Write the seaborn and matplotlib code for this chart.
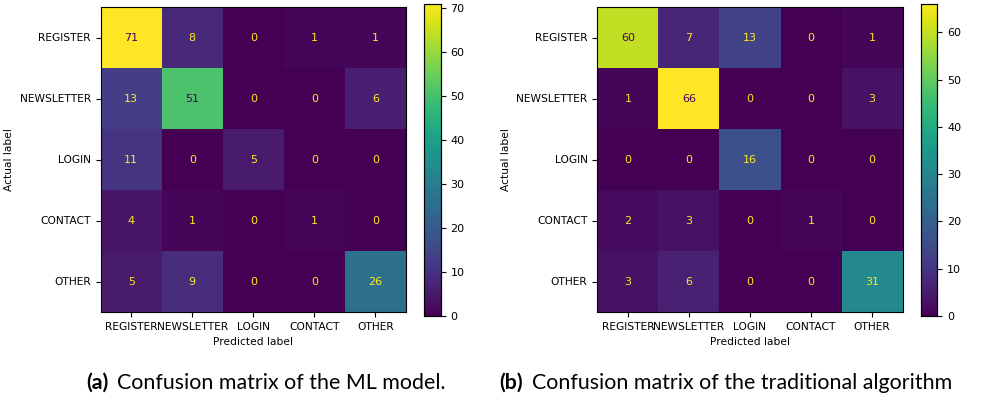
import numpy as np
import matplotlib
matplotlib.use("Agg")
import matplotlib.pyplot as plt
import seaborn as sns

labels = ["REGISTER", "NEWSLETTER", "LOGIN", "CONTACT", "OTHER"]

cm_ml = [
    [71, 8, 0, 1, 1],
    [13, 51, 0, 0, 6],
    [11, 0, 5, 0, 0],
    [4, 1, 0, 1, 0],
    [5, 9, 0, 0, 26],
]

cm_trad = [
    [60, 7, 13, 0, 1],
    [1, 66, 0, 0, 3],
    [0, 0, 16, 0, 0],
    [2, 3, 0, 1, 0],
    [3, 6, 0, 0, 31],
]

captions = [
    ("(a)", "Confusion matrix of the ML model."),
    ("(b)", "Confusion matrix of the traditional algorithm"),
]

W, H = 983, 403
fig = plt.figure(figsize=(W / 100, H / 100), dpi=100)


def px_axes(x0, y0, x1, y1):
    return fig.add_axes([x0 / W, 1 - y1 / H, (x1 - x0) / W, (y1 - y0) / H])


cmap = plt.get_cmap("viridis")
fs = 7.7


def draw_matrix(ax, cax, data):
    arr = np.array(data)
    sns.heatmap(arr, ax=ax, cbar_ax=cax, cmap="viridis", annot=True, fmt="d",
                annot_kws={"fontsize": 8}, linewidths=0,
                xticklabels=labels, yticklabels=labels)
    thresh = (arr.max() + arr.min()) / 2.0
    for t, v in zip(ax.texts, arr.flatten()):
        t.set_color(cmap(0.0) if v > thresh else cmap(1.0))
    for s in ax.spines.values():
        s.set_visible(True)
        s.set_linewidth(0.8)
        s.set_color("black")
    ax.tick_params(axis="both", which="both", length=3.5, width=0.8,
                   labelsize=fs, color="black")
    ax.set_yticklabels(labels, rotation=0)
    ax.set_xticklabels(labels, rotation=0)
    ax.set_xlabel("Predicted label", fontsize=fs)
    ax.set_ylabel("Actual label", fontsize=fs)
    cax.tick_params(labelsize=8, length=3.5, width=0.8)
    cax.set_frame_on(True)
    for s in cax.spines.values():
        s.set_visible(True)
        s.set_linewidth(0.8)


ax1 = px_axes(100.7, 7.3, 406, 312)
cax1 = px_axes(424, 4, 440.7, 316)
draw_matrix(ax1, cax1, cm_ml)
cax1.set_yticks([0, 10, 20, 30, 40, 50, 60, 70])

ax2 = px_axes(597.3, 7.3, 902.7, 312)
cax2 = px_axes(921, 4, 937.3, 316)
draw_matrix(ax2, cax2, cm_trad)
cax2.set_yticks([0, 10, 20, 30, 40, 50, 60])

# Captions: bold panel tag followed by regular text
cap_font = "Lato"
cap_fs = 15.4
renderer = fig.canvas.get_renderer()
for (tag, text), x_px in zip(captions, [86, 499]):
    t = fig.text(x_px / W, 1 - 383 / H, tag, fontsize=cap_fs, fontweight="bold",
                 family=cap_font, ha="left", va="center")
    bb = t.get_window_extent(renderer=renderer)
    fig.text((bb.x1 + 9) / W, 1 - 383 / H, text, fontsize=cap_fs,
             family=cap_font, ha="left", va="center")

fig.savefig("out.png", dpi=100)
